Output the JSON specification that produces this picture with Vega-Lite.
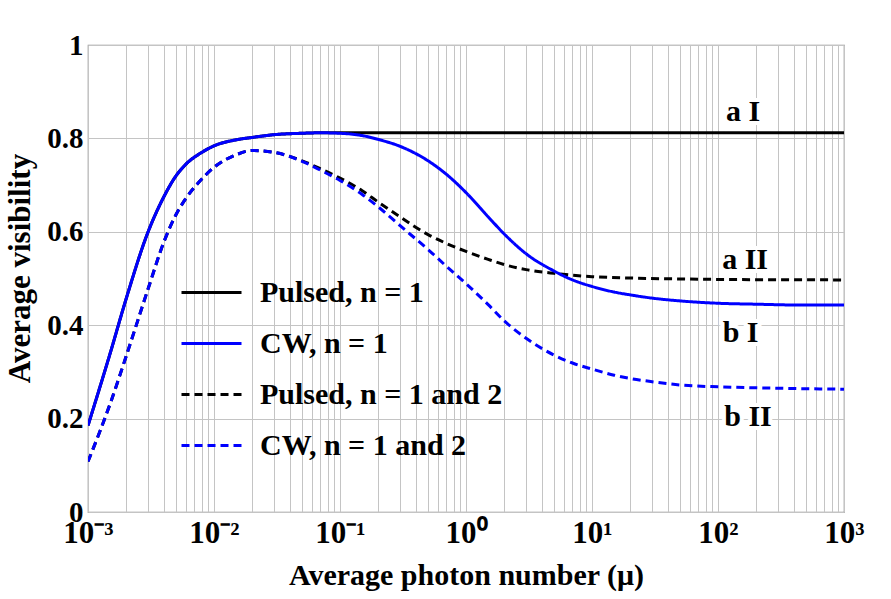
{
  "$schema": "https://vega.github.io/schema/vega-lite/v6.json",
  "width": 756,
  "height": 467,
  "autosize": "none",
  "padding": {"left": 88, "top": 45, "right": 47, "bottom": 87},
  "background": "white",
  "config": {
    "font": "Liberation Serif",
    "view": {"stroke": "#8c8c8c", "strokeWidth": 1.2},
    "axis": {"labelFont": "Liberation Serif", "titleFont": "Liberation Serif", "labelFontWeight": "bold", "titleFontWeight": "bold", "labelColor": "black", "titleColor": "black", "gridColor": "#c4c4c4", "gridWidth": 1, "gridOpacity": 1, "domain": false, "ticks": false}
  },
  "datasets": {
    "curves": [
      {"s": "Pulsed, n = 1", "x": 0.001, "v": 0.185},
      {"s": "Pulsed, n = 1", "x": 0.0015, "v": 0.34},
      {"s": "Pulsed, n = 1", "x": 0.002, "v": 0.455},
      {"s": "Pulsed, n = 1", "x": 0.003, "v": 0.6},
      {"s": "Pulsed, n = 1", "x": 0.004, "v": 0.675},
      {"s": "Pulsed, n = 1", "x": 0.005, "v": 0.72},
      {"s": "Pulsed, n = 1", "x": 0.006, "v": 0.745},
      {"s": "Pulsed, n = 1", "x": 0.008, "v": 0.77},
      {"s": "Pulsed, n = 1", "x": 0.01, "v": 0.784},
      {"s": "Pulsed, n = 1", "x": 0.015, "v": 0.797},
      {"s": "Pulsed, n = 1", "x": 0.02, "v": 0.802},
      {"s": "Pulsed, n = 1", "x": 0.03, "v": 0.808},
      {"s": "Pulsed, n = 1", "x": 0.05, "v": 0.811},
      {"s": "Pulsed, n = 1", "x": 0.07, "v": 0.812},
      {"s": "Pulsed, n = 1", "x": 0.1, "v": 0.812},
      {"s": "Pulsed, n = 1", "x": 1, "v": 0.812},
      {"s": "Pulsed, n = 1", "x": 10, "v": 0.812},
      {"s": "Pulsed, n = 1", "x": 100, "v": 0.812},
      {"s": "Pulsed, n = 1", "x": 1000, "v": 0.812},

      {"s": "Pulsed, n = 1 and 2", "x": 0.001, "v": 0.108},
      {"s": "Pulsed, n = 1 and 2", "x": 0.0015, "v": 0.232},
      {"s": "Pulsed, n = 1 and 2", "x": 0.002, "v": 0.332},
      {"s": "Pulsed, n = 1 and 2", "x": 0.003, "v": 0.478},
      {"s": "Pulsed, n = 1 and 2", "x": 0.004, "v": 0.578},
      {"s": "Pulsed, n = 1 and 2", "x": 0.005, "v": 0.637},
      {"s": "Pulsed, n = 1 and 2", "x": 0.006, "v": 0.672},
      {"s": "Pulsed, n = 1 and 2", "x": 0.008, "v": 0.713},
      {"s": "Pulsed, n = 1 and 2", "x": 0.01, "v": 0.738},
      {"s": "Pulsed, n = 1 and 2", "x": 0.015, "v": 0.765},
      {"s": "Pulsed, n = 1 and 2", "x": 0.02, "v": 0.774},
      {"s": "Pulsed, n = 1 and 2", "x": 0.03, "v": 0.77},
      {"s": "Pulsed, n = 1 and 2", "x": 0.05, "v": 0.752},
      {"s": "Pulsed, n = 1 and 2", "x": 0.07, "v": 0.735},
      {"s": "Pulsed, n = 1 and 2", "x": 0.1, "v": 0.715},
      {"s": "Pulsed, n = 1 and 2", "x": 0.15, "v": 0.688},
      {"s": "Pulsed, n = 1 and 2", "x": 0.2, "v": 0.664},
      {"s": "Pulsed, n = 1 and 2", "x": 0.3, "v": 0.632},
      {"s": "Pulsed, n = 1 and 2", "x": 0.5, "v": 0.594},
      {"s": "Pulsed, n = 1 and 2", "x": 0.7, "v": 0.575},
      {"s": "Pulsed, n = 1 and 2", "x": 1, "v": 0.558},
      {"s": "Pulsed, n = 1 and 2", "x": 1.5, "v": 0.541},
      {"s": "Pulsed, n = 1 and 2", "x": 2, "v": 0.53},
      {"s": "Pulsed, n = 1 and 2", "x": 3, "v": 0.519},
      {"s": "Pulsed, n = 1 and 2", "x": 5, "v": 0.511},
      {"s": "Pulsed, n = 1 and 2", "x": 7, "v": 0.507},
      {"s": "Pulsed, n = 1 and 2", "x": 10, "v": 0.504},
      {"s": "Pulsed, n = 1 and 2", "x": 20, "v": 0.501},
      {"s": "Pulsed, n = 1 and 2", "x": 50, "v": 0.499},
      {"s": "Pulsed, n = 1 and 2", "x": 100, "v": 0.498},
      {"s": "Pulsed, n = 1 and 2", "x": 1000, "v": 0.497},

      {"s": "CW, n = 1", "x": 0.001, "v": 0.185},
      {"s": "CW, n = 1", "x": 0.0015, "v": 0.34},
      {"s": "CW, n = 1", "x": 0.002, "v": 0.455},
      {"s": "CW, n = 1", "x": 0.003, "v": 0.6},
      {"s": "CW, n = 1", "x": 0.004, "v": 0.675},
      {"s": "CW, n = 1", "x": 0.005, "v": 0.72},
      {"s": "CW, n = 1", "x": 0.006, "v": 0.745},
      {"s": "CW, n = 1", "x": 0.008, "v": 0.77},
      {"s": "CW, n = 1", "x": 0.01, "v": 0.784},
      {"s": "CW, n = 1", "x": 0.015, "v": 0.797},
      {"s": "CW, n = 1", "x": 0.02, "v": 0.802},
      {"s": "CW, n = 1", "x": 0.03, "v": 0.808},
      {"s": "CW, n = 1", "x": 0.05, "v": 0.811},
      {"s": "CW, n = 1", "x": 0.07, "v": 0.812},
      {"s": "CW, n = 1", "x": 0.1, "v": 0.811},
      {"s": "CW, n = 1", "x": 0.15, "v": 0.806},
      {"s": "CW, n = 1", "x": 0.2, "v": 0.798},
      {"s": "CW, n = 1", "x": 0.3, "v": 0.783},
      {"s": "CW, n = 1", "x": 0.5, "v": 0.752},
      {"s": "CW, n = 1", "x": 0.7, "v": 0.723},
      {"s": "CW, n = 1", "x": 1, "v": 0.684},
      {"s": "CW, n = 1", "x": 1.5, "v": 0.632},
      {"s": "CW, n = 1", "x": 2, "v": 0.596},
      {"s": "CW, n = 1", "x": 3, "v": 0.553},
      {"s": "CW, n = 1", "x": 5, "v": 0.516},
      {"s": "CW, n = 1", "x": 7, "v": 0.497},
      {"s": "CW, n = 1", "x": 10, "v": 0.483},
      {"s": "CW, n = 1", "x": 15, "v": 0.471},
      {"s": "CW, n = 1", "x": 20, "v": 0.465},
      {"s": "CW, n = 1", "x": 30, "v": 0.458},
      {"s": "CW, n = 1", "x": 50, "v": 0.452},
      {"s": "CW, n = 1", "x": 100, "v": 0.447},
      {"s": "CW, n = 1", "x": 200, "v": 0.445},
      {"s": "CW, n = 1", "x": 500, "v": 0.443},
      {"s": "CW, n = 1", "x": 1000, "v": 0.443},

      {"s": "CW, n = 1 and 2", "x": 0.001, "v": 0.108},
      {"s": "CW, n = 1 and 2", "x": 0.0015, "v": 0.232},
      {"s": "CW, n = 1 and 2", "x": 0.002, "v": 0.332},
      {"s": "CW, n = 1 and 2", "x": 0.003, "v": 0.478},
      {"s": "CW, n = 1 and 2", "x": 0.004, "v": 0.578},
      {"s": "CW, n = 1 and 2", "x": 0.005, "v": 0.637},
      {"s": "CW, n = 1 and 2", "x": 0.006, "v": 0.672},
      {"s": "CW, n = 1 and 2", "x": 0.008, "v": 0.713},
      {"s": "CW, n = 1 and 2", "x": 0.01, "v": 0.738},
      {"s": "CW, n = 1 and 2", "x": 0.015, "v": 0.765},
      {"s": "CW, n = 1 and 2", "x": 0.02, "v": 0.774},
      {"s": "CW, n = 1 and 2", "x": 0.03, "v": 0.77},
      {"s": "CW, n = 1 and 2", "x": 0.05, "v": 0.751},
      {"s": "CW, n = 1 and 2", "x": 0.07, "v": 0.732},
      {"s": "CW, n = 1 and 2", "x": 0.1, "v": 0.71},
      {"s": "CW, n = 1 and 2", "x": 0.15, "v": 0.68},
      {"s": "CW, n = 1 and 2", "x": 0.2, "v": 0.654},
      {"s": "CW, n = 1 and 2", "x": 0.3, "v": 0.613},
      {"s": "CW, n = 1 and 2", "x": 0.5, "v": 0.562},
      {"s": "CW, n = 1 and 2", "x": 0.7, "v": 0.526},
      {"s": "CW, n = 1 and 2", "x": 1, "v": 0.489},
      {"s": "CW, n = 1 and 2", "x": 1.5, "v": 0.444},
      {"s": "CW, n = 1 and 2", "x": 2, "v": 0.41},
      {"s": "CW, n = 1 and 2", "x": 3, "v": 0.372},
      {"s": "CW, n = 1 and 2", "x": 5, "v": 0.336},
      {"s": "CW, n = 1 and 2", "x": 7, "v": 0.319},
      {"s": "CW, n = 1 and 2", "x": 10, "v": 0.306},
      {"s": "CW, n = 1 and 2", "x": 15, "v": 0.293},
      {"s": "CW, n = 1 and 2", "x": 20, "v": 0.286},
      {"s": "CW, n = 1 and 2", "x": 30, "v": 0.279},
      {"s": "CW, n = 1 and 2", "x": 50, "v": 0.272},
      {"s": "CW, n = 1 and 2", "x": 100, "v": 0.268},
      {"s": "CW, n = 1 and 2", "x": 200, "v": 0.266},
      {"s": "CW, n = 1 and 2", "x": 500, "v": 0.264},
      {"s": "CW, n = 1 and 2", "x": 1000, "v": 0.263}
    ],
    "labels": [
      {"t": "a I", "x": 158, "v": 0.857},
      {"t": "a II", "x": 164, "v": 0.54},
      {"t": "b I", "x": 151, "v": 0.383},
      {"t": "b II", "x": 173, "v": 0.203}
    ]
  },
  "layer": [
    {
      "data": {"name": "curves"},
      "mark": {"type": "line", "clip": true, "interpolate": "monotone"},
      "encoding": {
        "x": {
          "field": "x", "type": "quantitative",
          "scale": {"type": "log", "domain": [0.001, 1000], "nice": false},
          "axis": {
            "title": "Average photon number (μ)",
            "titleFontSize": 30,
            "titlePadding": 12,
            "labelFontSize": 31,
            "labelPadding": 6,
            "labelFlush": false,
            "labelOverlap": false,
            "values": [0.001,0.002,0.003,0.004,0.005,0.006,0.007,0.008,0.009,0.01,0.02,0.03,0.04,0.05,0.06,0.07,0.08,0.09,0.1,0.2,0.3,0.4,0.5,0.6,0.7,0.8,0.9,1,2,3,4,5,6,7,8,9,10,20,30,40,50,60,70,80,90,100,200,300,400,500,600,700,800,900,1000],
            "labelExpr": "datum.value == 0.001 ? '10⁻³' : datum.value == 0.01 ? '10⁻²' : datum.value == 0.1 ? '10⁻¹' : datum.value == 1 ? '10⁰' : datum.value == 10 ? '10¹' : datum.value == 100 ? '10²' : datum.value == 1000 ? '10³' : ''"
          }
        },
        "y": {
          "field": "v", "type": "quantitative",
          "scale": {"domain": [0, 1], "nice": false},
          "axis": {
            "title": "Average visibility",
            "titleFontSize": 31,
            "titleX": -68,
            "titleY": 223,
            "titleAlign": "center",
            "titleBaseline": "middle",
            "titleAngle": -90,
            "labelFontSize": 29,
            "labelPadding": 5,
            "values": [0, 0.2, 0.4, 0.6, 0.8, 1],
            "format": "~g"
          }
        },
        "color": {
          "field": "s", "type": "nominal",
          "scale": {"domain": ["Pulsed, n = 1", "CW, n = 1", "Pulsed, n = 1 and 2", "CW, n = 1 and 2"], "range": ["#000000", "#0000ff", "#000000", "#0000ff"]},
          "legend": {
            "title": null,
            "orient": "none",
            "legendX": 92,
            "legendY": 216,
            "padding": 0,
            "symbolType": "stroke",
            "symbolSize": 3600,
            "labelFont": "Liberation Serif",
            "labelFontWeight": "bold",
            "labelFontSize": 30,
            "labelColor": "black",
            "labelOffset": 17,
            "rowPadding": 4,
            "labelLimit": 400
          }
        },
        "strokeDash": {
          "field": "s", "type": "nominal",
          "scale": {"domain": ["Pulsed, n = 1", "CW, n = 1", "Pulsed, n = 1 and 2", "CW, n = 1 and 2"], "range": [[1, 0], [1, 0], [8, 5], [8, 5]]},
          "legend": null
        },
        "strokeWidth": {
          "field": "s", "type": "nominal",
          "scale": {"domain": ["Pulsed, n = 1", "CW, n = 1", "Pulsed, n = 1 and 2", "CW, n = 1 and 2"], "range": [3, 3, 2.2, 2.2]},
          "legend": null
        }
      }
    },
    {
      "data": {"name": "labels"},
      "mark": {"type": "text", "font": "Liberation Serif", "fontWeight": "bold", "fontSize": 30, "stroke": "white", "strokeWidth": 8, "fill": "white", "align": "center", "baseline": "middle"},
      "encoding": {
        "x": {"field": "x", "type": "quantitative"},
        "y": {"field": "v", "type": "quantitative"},
        "text": {"field": "t"}
      }
    },
    {
      "data": {"name": "labels"},
      "mark": {"type": "text", "font": "Liberation Serif", "fontWeight": "bold", "fontSize": 30, "fill": "black", "align": "center", "baseline": "middle"},
      "encoding": {
        "x": {"field": "x", "type": "quantitative"},
        "y": {"field": "v", "type": "quantitative"},
        "text": {"field": "t"}
      }
    }
  ]
}
